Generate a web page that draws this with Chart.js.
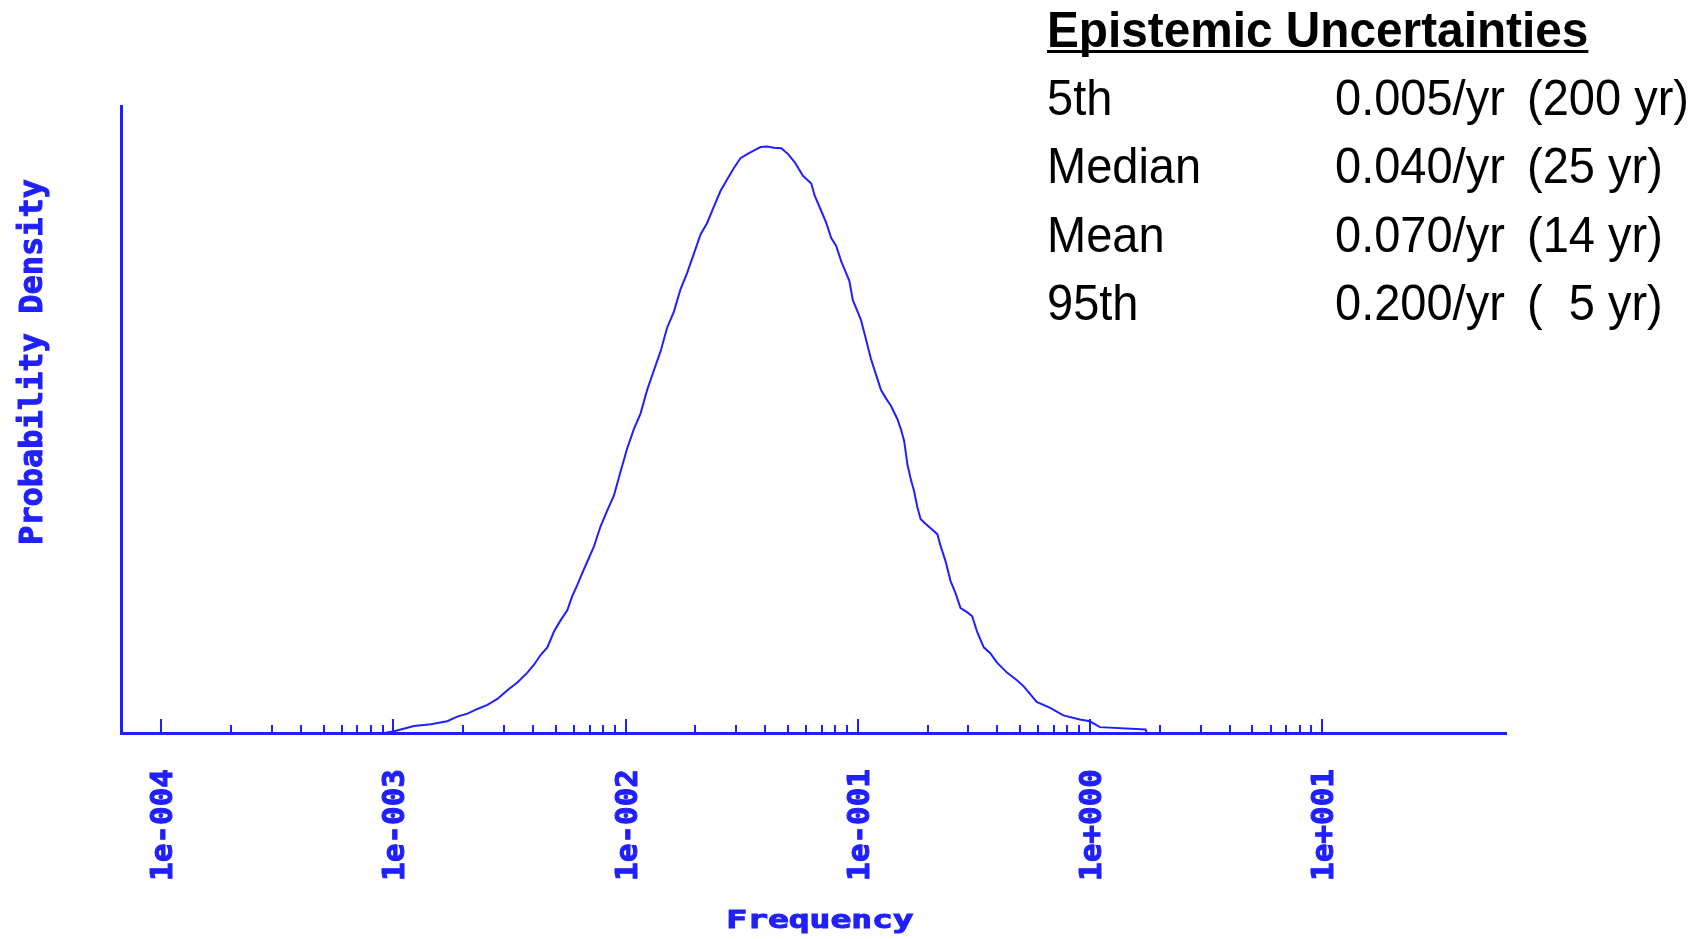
<!DOCTYPE html>
<html>
<head>
<meta charset="utf-8">
<title>Epistemic Uncertainties</title>
<script src="https://cdn.jsdelivr.net/npm/chart.js@4.4.1/dist/chart.umd.min.js"></script>
<style>
  html, body { margin: 0; padding: 0; background: #fff; }
  #wrap { position: relative; width: 1703px; height: 939px; }
</style>
</head>
<body>
<div id="wrap"><canvas id="chart"></canvas></div>
<script>
const blue = '#2020ff';

// curve: frequency (per yr) and relative probability density
const frequency = [
  0.000700, 0.000912, 0.001007, 0.001227, 0.001449, 0.001706, 0.001884, 0.002084, 0.002301, 0.002541,
  0.002805, 0.003097, 0.003420, 0.003776, 0.004027, 0.004305, 0.004603, 0.004920, 0.005248, 0.005610,
  0.005888, 0.006194, 0.006501, 0.006839, 0.007311, 0.007798, 0.008337, 0.008913, 0.009506, 0.01016,
  0.01086, 0.01161, 0.01239, 0.01324, 0.01416, 0.01510, 0.01614, 0.01726, 0.01841, 0.01968,
  0.02104, 0.02249, 0.02399, 0.02564, 0.02742, 0.02924, 0.03126, 0.03342, 0.03565, 0.03811,
  0.04074, 0.04355, 0.04688, 0.05012, 0.05358, 0.05808, 0.06310, 0.06516, 0.06966, 0.07311,
  0.07691, 0.08072, 0.08492, 0.08913, 0.09204, 0.09528, 0.1000, 0.1033, 0.1086, 0.1140,
  0.1199, 0.1259, 0.1321, 0.1390, 0.1483, 0.1535, 0.1585, 0.1637, 0.1694, 0.1750,
  0.1807, 0.1866, 0.1932, 0.2061, 0.2203, 0.2275, 0.2393, 0.2512, 0.2636, 0.2773,
  0.2958, 0.3112, 0.3266, 0.3491, 0.3724, 0.3981, 0.4395, 0.4853, 0.5176, 0.5902,
  0.6745, 0.7691, 0.9057, 1.000, 1.104, 1.738, 1.758, 2.512
];
const density = [
  0, 0, 0.003, 0.012, 0.015, 0.020, 0.028, 0.033, 0.041, 0.048,
  0.058, 0.073, 0.086, 0.103, 0.116, 0.133, 0.146, 0.173, 0.192, 0.209,
  0.233, 0.252, 0.272, 0.292, 0.318, 0.352, 0.379, 0.405, 0.445, 0.485,
  0.518, 0.545, 0.585, 0.618, 0.651, 0.691, 0.718, 0.757, 0.784, 0.817,
  0.850, 0.870, 0.897, 0.924, 0.944, 0.963, 0.980, 0.987, 0.993, 0.999,
  1.000, 0.998, 0.997, 0.987, 0.973, 0.950, 0.937, 0.917, 0.890, 0.870,
  0.844, 0.831, 0.804, 0.784, 0.771, 0.738, 0.718, 0.704, 0.671, 0.638,
  0.611, 0.585, 0.571, 0.558, 0.535, 0.518, 0.498, 0.458, 0.432, 0.412,
  0.385, 0.365, 0.359, 0.349, 0.339, 0.319, 0.292, 0.259, 0.239, 0.213,
  0.206, 0.199, 0.173, 0.146, 0.136, 0.120, 0.103, 0.090, 0.080, 0.053,
  0.043, 0.030, 0.023, 0.020, 0.010, 0.006, 0, 0
];

const tickValues = [1e-4, 1e-3, 1e-2, 1e-1, 1, 10];
const tickLabels = ['1e-004', '1e-003', '1e-002', '1e-001', '1e+000', '1e+001'];
const minorSteps = [2, 3, 4, 5, 6, 7, 8, 9];

const xTitle = 'Frequency';
const yTitle = 'Probability Density';

const statsTitle = 'Epistemic Uncertainties';
const statNames = ['5th', 'Median', 'Mean', '95th'];
const statRates = ['0.005/yr', '0.040/yr', '0.070/yr', '0.200/yr'];
const statPeriods = ['(200 yr)', '(25 yr)', '(14 yr)', '(  5 yr)'];

function scaledText(ctx, text, x, y, sx, stroke) {
  ctx.save();
  ctx.translate(x, y);
  ctx.scale(sx, 1);
  if (stroke) ctx.strokeText(text, 0, 0);
  ctx.fillText(text, 0, 0);
  ctx.restore();
}

const overlay = {
  id: 'overlay',
  afterDraw(chart) {
    const ctx = chart.ctx;
    const xs = chart.scales.x;
    const axisY = xs.top;
    ctx.save();

    // tick marks point up into the plot
    ctx.strokeStyle = blue;
    ctx.lineWidth = 2;
    ctx.beginPath();
    tickValues.forEach((dec, i) => {
      let px = Math.round(xs.getPixelForValue(dec));
      ctx.moveTo(px, axisY);
      ctx.lineTo(px, axisY - 14);
      if (i < tickValues.length - 1) {
        minorSteps.forEach(m => {
          px = Math.round(xs.getPixelForValue(dec * m));
          ctx.moveTo(px, axisY);
          ctx.lineTo(px, axisY - 8);
        });
      }
    });
    ctx.stroke();

    // axis titles
    ctx.fillStyle = blue;
    ctx.lineWidth = 1;
    ctx.textBaseline = 'alphabetic';
    ctx.textAlign = 'center';
    ctx.font = 'bold 32px "DejaVu Sans Mono", monospace';
    ctx.save();
    ctx.translate(42, 362);
    ctx.rotate(-Math.PI / 2);
    ctx.strokeText(yTitle, 0, 0);
    ctx.fillText(yTitle, 0, 0);
    ctx.restore();

    ctx.font = 'bold 24px "DejaVu Sans Mono", monospace';
    scaledText(ctx, xTitle, 820, 928, 1.44, true);

    // stats block
    ctx.fillStyle = '#000';
    ctx.textAlign = 'left';
    ctx.font = 'bold 50px "Liberation Sans", Arial, sans-serif';
    scaledText(ctx, statsTitle, 1047, 47, 0.955, false);
    const w = ctx.measureText(statsTitle).width * 0.955;
    ctx.fillRect(1047, 50, w, 3);

    ctx.font = '50px "Liberation Sans", Arial, sans-serif';
    const rows = [115, 183.3, 251.7, 320];
    const cols = [1047, 1335, 1527];
    statNames.forEach((name, i) => {
      scaledText(ctx, name, cols[0], rows[i], 0.94, false);
      scaledText(ctx, statRates[i], cols[1], rows[i], 0.94, false);
      scaledText(ctx, statPeriods[i], cols[2], rows[i], 0.94, false);
    });
    ctx.restore();
  }
};

new Chart(document.getElementById('chart'), {
  type: 'line',
  data: {
    datasets: [{
      data: frequency.map((f, i) => ({x: f, y: density[i]})),
      borderColor: blue,
      borderWidth: 2,
      pointRadius: 0,
      fill: false,
      tension: 0
    }]
  },
  options: {
    responsive: true,
    maintainAspectRatio: false,
    animation: false,
    layout: {padding: {top: 106, right: 197, left: 0, bottom: 0}},
    plugins: {
      legend: {display: false},
      tooltip: {enabled: false}
    },
    scales: {
      x: {
        type: 'logarithmic',
        min: 6.71e-5,
        max: 62,
        grid: {display: false, drawTicks: false},
        border: {display: true, color: blue, width: 3},
        afterBuildTicks: (scale) => {
          scale.ticks = tickValues.map(v => ({value: v}));
        },
        afterFit: (scale) => { scale.height = 206; },
        ticks: {
          autoSkip: false,
          minRotation: 90,
          maxRotation: 90,
          padding: 36,
          labelOffset: 3,
          color: blue,
          textStrokeColor: blue,
          textStrokeWidth: 1,
          font: {family: '"DejaVu Sans Mono", monospace', weight: 'bold', size: 31},
          callback: (value) => tickLabels[tickValues.indexOf(value)]
        }
      },
      y: {
        type: 'linear',
        min: 0,
        max: 1.069,
        grid: {display: false, drawTicks: false},
        border: {display: true, color: blue, width: 3},
        ticks: {display: false},
        afterFit: (scale) => { scale.width = 121; }
      }
    }
  },
  plugins: [overlay]
});
</script>
</body>
</html>
